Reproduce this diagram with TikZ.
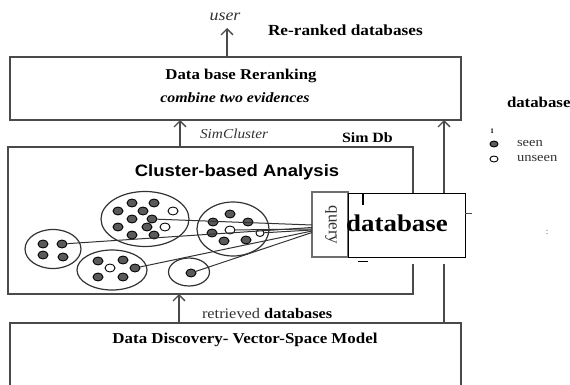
\documentclass[tikz,border=0pt]{standalone}
\usepackage{fontspec}
\setmainfont{Liberation Serif}
\newfontfamily\headsans{Liberation Sans}
\usetikzlibrary{arrows.meta,shapes.geometric}
% text is set slightly wider than its natural width
\newcommand{\hstretch}[1]{\scalebox{1.12}[1]{#1}}
\newcommand{\fsz}[1]{\fontsize{#1}{#1}\selectfont}
\definecolor{boxgray}{HTML}{4A4A4A}
\definecolor{dotgray}{HTML}{5A5A5A}
\definecolor{linegray}{HTML}{333333}
\begin{document}
\begin{tikzpicture}[x=1pt,y=-1pt,
  frame/.style={draw=boxgray, line width=1.4pt, inner sep=0pt, outer sep=0pt, anchor=north west},
  hidden/.style={inner sep=0pt, outer sep=0pt, anchor=north west},
  lbl/.style={inner sep=0pt, outer sep=0pt},
  arr/.style={draw=boxgray, line width=1.3pt, -{Straight Barb[length=6pt,width=12pt,line width=1.3pt]}},
  rule/.style={draw=boxgray, line width=1.4pt},
  grp/.style={draw=linegray, line width=1.2pt, ellipse, inner sep=0pt},
  seen/.style={ellipse, draw=black, fill=dotgray, line width=0.9pt, minimum width=10pt, minimum height=8pt, inner sep=0pt},
  unseen/.style={seen, fill=white},
  link/.style={draw=linegray, line width=1pt}]
\useasboundingbox (0,0) rectangle (570,385);

% ---- re-ranking stage ----
\node[frame, minimum width=451pt, minimum height=63pt] (rerank) at (10,57) {};
\node[lbl] (rerankt) at (241,76) {\hstretch{\fsz{15}\bfseries Data base Reranking}};
\node[lbl] (rerankc) at (235,98) {\hstretch{\fsz{14.2}\bfseries\itshape combine two evidences}};
\coordinate (userpt) at (227,28);
\node[lbl] (user) at (225,17) {\hstretch{\fsz{16}\itshape\color{linegray}user}};
\draw[arr] (rerank.north -| userpt) -- (userpt);
\node[lbl, anchor=west] (reranked) at (268,30) {\hstretch{\fsz{15.4}\bfseries Re-ranked databases}};

% ---- cluster-based analysis ----
\node[hidden, minimum width=405pt, minimum height=147pt] (cluster) at (8,147) {};
\draw[rule] (413,205) -- (cluster.north east) -- (cluster.north west)
  -- (cluster.south west) -- (cluster.south east) -- (413,264);
\node[lbl] (clustert) at (237,172) {\hstretch{\fsz{16.5}\headsans\bfseries Cluster-based Analysis}};

\coordinate (simx) at (180,0);
\draw[arr] (cluster.north -| simx) -- (rerank.south -| simx);
\node[lbl, anchor=west] (simcl) at (200,134) {\hstretch{\fsz{13.7}\itshape\color{linegray} SimCluster}};
\node[lbl, anchor=west] (simdb) at (342,138) {\hstretch{\fsz{14.2}\bfseries Sim Db}};

% ---- data discovery stage ----
\node[hidden, minimum width=451pt, minimum height=70pt] (discovery) at (10,323) {};
\draw[rule] (10,390) -- (discovery.north west) -- (discovery.north east) -- (461,390);
\node[lbl] (discoveryt) at (245,340) {\hstretch{\fsz{15.1}\bfseries Data Discovery- Vector-Space Model}};
\coordinate (retx) at (179,0);
\draw[arr] (discovery.north -| retx) -- (cluster.south -| retx);
\node[lbl, anchor=west] (retr) at (202,314) {\hstretch{\fsz{14.6}{\color{linegray}retrieved} \bfseries databases}};

% direct database evidence
\coordinate (dbx) at (444,0);
\draw[rule] (discovery.north -| dbx) -- (444,264);
\draw[arr] (444,205) -- (rerank.south -| dbx);

% ---- groups of databases ----
\node[grp, minimum width=56pt, minimum height=39pt] (gA) at (53,249) {};
\node[grp, minimum width=88pt, minimum height=55pt] (gB) at (145,219) {};
\node[grp, minimum width=72pt, minimum height=54pt] (gC) at (233,229) {};
\node[grp, minimum width=70pt, minimum height=40pt] (gD) at (112,270) {};
\node[grp, minimum width=41pt, minimum height=28pt] (gE) at (189,272) {};

\node[seen] (a1) at (43,244) {};
\node[seen] (a2) at (62,244) {};
\node[seen] (a3) at (43,255) {};
\node[seen] (a4) at (63,257) {};

\node[seen] (b1) at (132,203) {};
\node[seen] (b2) at (154,203) {};
\node[seen] (b3) at (118,211) {};
\node[seen] (b4) at (143,211) {};
\node[unseen] (b5) at (173,211) {};
\node[seen] (b6) at (132,219) {};
\node[seen] (b7) at (152,219) {};
\node[seen] (b8) at (118,227) {};
\node[seen] (b9) at (147,227) {};
\node[unseen] (b10) at (165,227) {};
\node[seen] (b11) at (132,235) {};
\node[seen] (b12) at (154,235) {};

\node[seen] (c1) at (213,222) {};
\node[seen] (c2) at (230,214) {};
\node[seen] (c3) at (248,222) {};
\node[seen] (c4) at (212,233) {};
\node[unseen] (c5) at (230,230) {};
\node[seen] (c6) at (224,241) {};
\node[seen] (c7) at (246,240) {};
\node[unseen, minimum width=8pt, minimum height=7pt] (c8) at (260,233) {};

\node[seen] (d1) at (98,261) {};
\node[seen] (d2) at (123,260) {};
\node[unseen] (d3) at (110,268) {};
\node[seen] (d4) at (135,268) {};
\node[seen] (d5) at (98,277) {};
\node[seen] (d6) at (123,277) {};

\node[seen] (e1) at (191,273) {};

% ---- query and database ----
\node[frame, draw=boxgray!80, fill=white, minimum width=36pt, minimum height=65pt] (query) at (312,192) {};
\node[lbl, rotate=-90] (queryt) at (331,225) {\fsz{17}\color{linegray}query};
\node[frame, draw=black, line width=1pt, fill=white, minimum width=117pt, minimum height=64pt] (dbbox) at (348,193) {};
\node[lbl] (dbt) at (397,223) {\hstretch{\fsz{24}\bfseries database}};
\draw[line width=2pt] ([xshift=15pt]dbbox.north west) -- ++(0,12);
\draw[line width=1pt] ([xshift=10pt,yshift=-4pt]dbbox.south west) -- ++(10,0);
\draw[line width=0.8pt, draw=boxgray] ([yshift=-20pt]dbbox.north east) -- ++(7,0);

% links from database groups to the query
\draw[link] (b7) -- ([yshift=-0.5pt]query.west);
\draw[link] (a2) -- ([yshift=-3pt]query.west);
\draw[link] (c5) -- ([yshift=-4.5pt]query.west);
\draw[link] (c8) -- ([yshift=-5.5pt]query.west);
\draw[link] (d4) -- ([yshift=-6.5pt]query.west);
\draw[link] (e1) -- ([yshift=-8pt]query.west);

% ---- legend ----
\node[lbl, anchor=west] (legt) at (507,102) {\hstretch{\fsz{15}\bfseries database}};
\node[lbl] (legone) at (492,131) {\fsz{7}\bfseries 1};
\node[seen, minimum width=8pt, minimum height=6pt] (legseen) at (494,144) {};
\node[lbl, anchor=west] (legseent) at (517,144) {\hstretch{\fsz{13}\color{linegray}seen}};
\node[unseen, minimum width=8pt, minimum height=6pt] (legunseen) at (494,159) {};
\node[lbl, anchor=west] (legunseent) at (517,159) {\hstretch{\fsz{13}\color{linegray}unseen}};
\node[lbl] (colon) at (547,232) {\fsz{9}\color{boxgray}:};
\end{tikzpicture}
\end{document}
